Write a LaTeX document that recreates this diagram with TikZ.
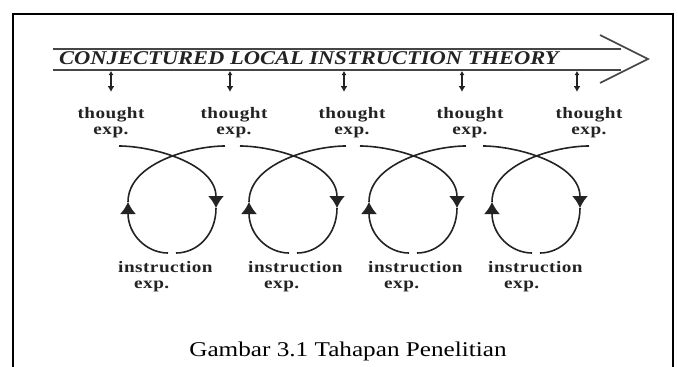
\documentclass[tikz,border=0pt]{standalone}
\usepackage{fontspec}
\setmainfont{Liberation Serif}
\newfontfamily\headfont{Liberation Serif}[FakeStretch=1.155]
\newfontfamily\lblfont{Liberation Serif}[FakeStretch=1.2,LetterSpace=3]
\newfontfamily\capfont{Liberation Serif}[FakeStretch=1.2]
\usetikzlibrary{arrows.meta,calc}
\definecolor{Ink}{RGB}{35,35,35}
\definecolor{Band}{RGB}{70,70,70}
\tikzset{
  boxline/.style={line width=2pt,draw=black},
  band/.style={draw=Band,line width=1.6pt},
  headline/.style={font=\headfont\fontsize{19.5}{20}\selectfont\bfseries\itshape,text=Ink,inner sep=0pt},
  tlab/.style={font=\lblfont\fontsize{16}{16}\selectfont\bfseries,text=Ink,align=center,inner sep=0pt},
  ilab/.style={font=\lblfont\fontsize{16}{16}\selectfont\bfseries,text=Ink,align=left,inner sep=0pt},
  tmark/.style={{Latex[length=4pt,width=5pt]}-{Latex[length=6pt,width=7pt]},line width=1.5pt,draw=Ink,shorten >=15pt},
  larr/.style={-{Latex[length=12pt,width=16pt]},line width=1.6pt,draw=Ink},
  lline/.style={line width=1.6pt,draw=Ink},
  capt/.style={font=\capfont\fontsize{21}{22}\selectfont,inner sep=0pt},
  expcycle/.pic={
    \draw[larr] (-53,59) .. controls (-20,59) and (44,42) .. (44,-3);
    \draw[lline] (44,-3) .. controls (44,-30) and (25,-48) .. (4,-48);
    \draw[larr] (-4,-48) .. controls (-25,-48) and (-44,-30) .. (-44,3);
    \draw[lline] (-44,3) .. controls (-44,42) and (20,59) .. (53,59);
  }
}
\begin{document}
\begin{tikzpicture}[x=1pt,y=1pt]
\useasboundingbox (0,0) rectangle (678,-367);
\draw[boxline] (13,-367) -- (13,-14) -- (673,-14) -- (673,-367);
% the long arrow
\draw[band] (53,-49) -- (621,-49);
\draw[band] (53,-70) -- (621,-70);
\draw[band] (600,-35) -- (648,-59) -- (600,-83);
\node[headline,anchor=base west] (clit) at (59,-64) {CONJECTURED LOCAL INSTRUCTION THEORY};
% thought experiments
\node[tlab,anchor=north] (te1) at (111,-107) {thought\\exp.};
\node[tlab,anchor=north] (te2) at (234,-107) {thought\\exp.};
\node[tlab,anchor=north] (te3) at (352,-107) {thought\\exp.};
\node[tlab,anchor=north] (te4) at (470,-107) {thought\\exp.};
\node[tlab,anchor=north] (te5) at (589,-107) {thought\\exp.};
\coordinate (m1) at (111,-71);
\coordinate (m2) at (230,-71);
\coordinate (m3) at (344,-71);
\coordinate (m4) at (462,-71);
\coordinate (m5) at (577,-71);
\draw[tmark] (m1) -- (m1 |- te1.north);
\draw[tmark] (m2) -- (m2 |- te2.north);
\draw[tmark] (m3) -- (m3 |- te3.north);
\draw[tmark] (m4) -- (m4 |- te4.north);
\draw[tmark] (m5) -- (m5 |- te5.north);
% cycles
\pic at (172,-205) {expcycle};
\pic at (293,-205) {expcycle};
\pic at (413,-205) {expcycle};
\pic at (536,-205) {expcycle};
% instruction experiments
\node[ilab,anchor=north west] (ie1) at (118,-261) {instruction\\\hspace*{16pt}exp.};
\node[ilab,anchor=north west] (ie2) at (248,-261) {instruction\\\hspace*{16pt}exp.};
\node[ilab,anchor=north west] (ie3) at (368,-261) {instruction\\\hspace*{16pt}exp.};
\node[ilab,anchor=north west] (ie4) at (488,-261) {instruction\\\hspace*{16pt}exp.};
\node[capt] (fig) at (348,-351) {Gambar 3.1 Tahapan Penelitian};
\end{tikzpicture}
\end{document}
